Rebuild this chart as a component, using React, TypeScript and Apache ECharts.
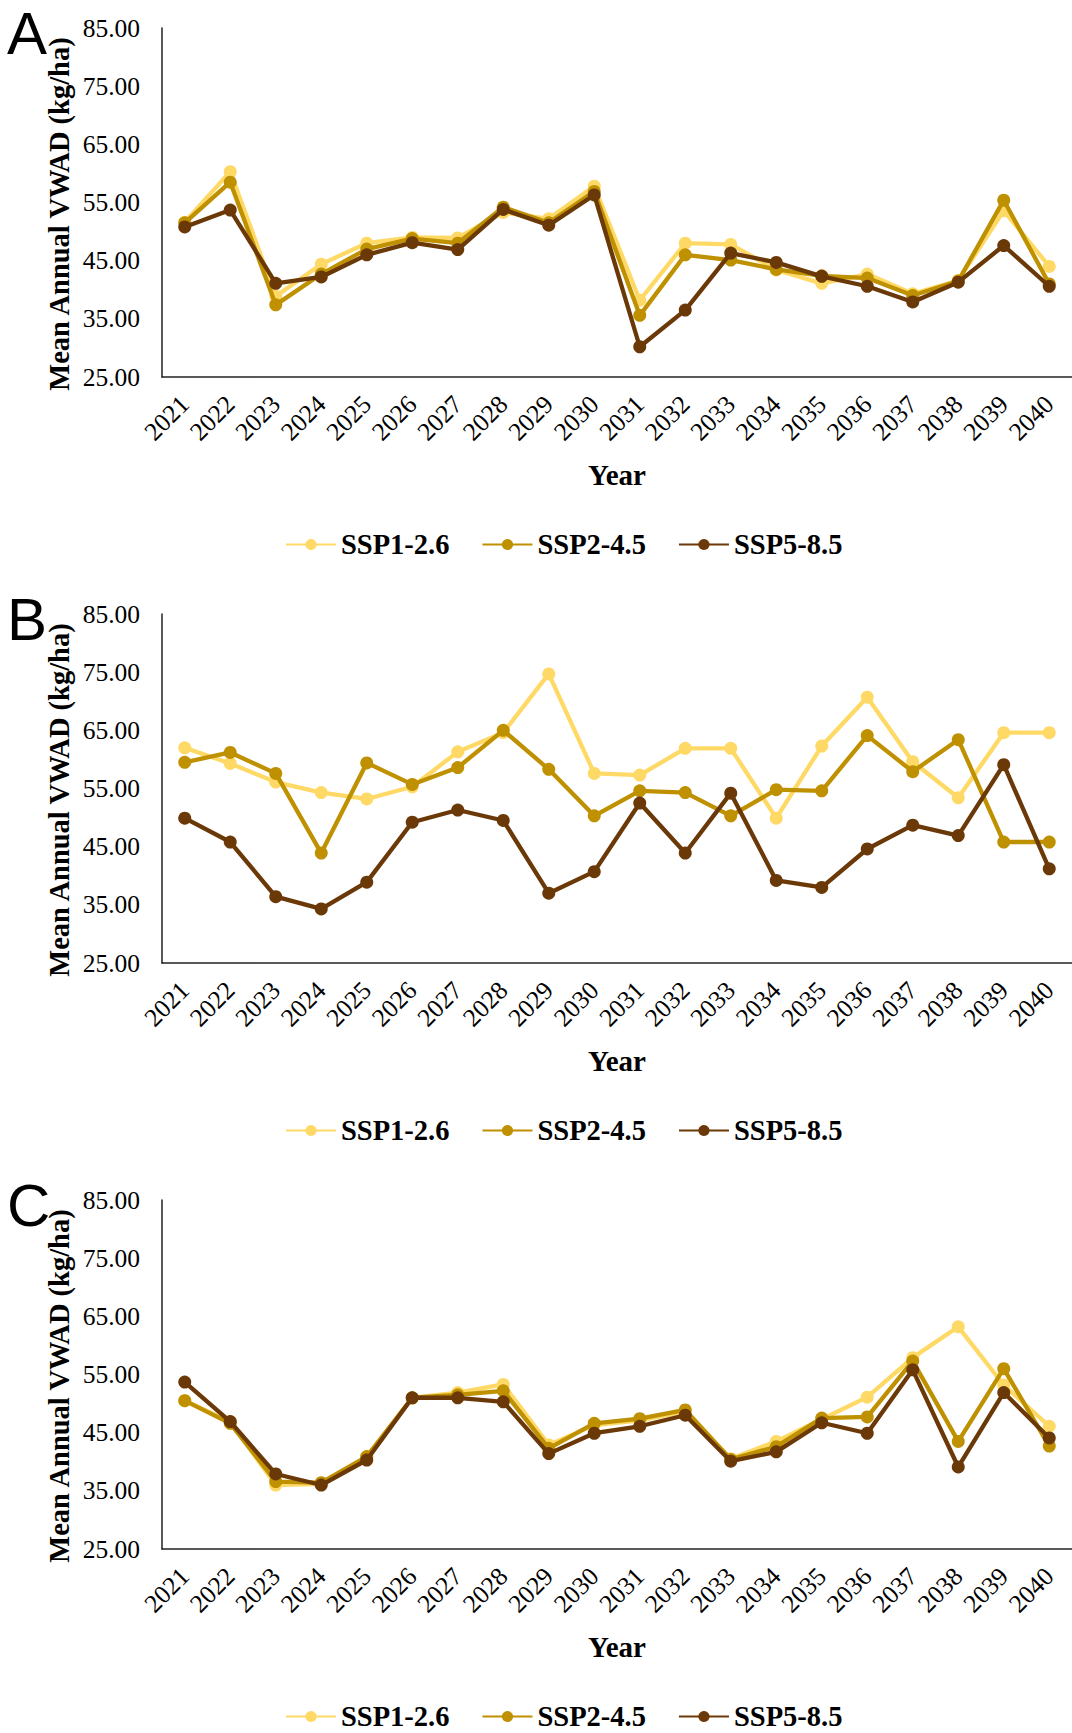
import React, { useEffect, useRef } from "react";
import * as echarts from "echarts";

const years = ["2021","2022","2023","2024","2025","2026","2027","2028","2029","2030","2031","2032","2033","2034","2035","2036","2037","2038","2039","2040"];
const seriesNames = ["SSP1-2.6", "SSP2-4.5", "SSP5-8.5"];
const panelLetters = ["A", "B", "C"];
const yAxisTitle = "Mean Annual VWAD (kg/ha)";

const ssp1A = [51.6, 60.3, 38.9, 44.4, 48.0, 49.0, 48.9, 53.3, 52.2, 57.8, 38.2, 48.0, 47.8, 43.4, 41.1, 42.7, 39.3, 41.6, 53.6, 44.0];
const ssp2A = [51.5, 58.5, 37.4, 42.7, 47.0, 48.8, 48.0, 54.2, 51.5, 56.9, 35.6, 46.0, 45.1, 43.5, 42.4, 42.0, 39.0, 41.5, 55.4, 41.0];
const ssp5A = [50.8, 53.7, 41.1, 42.2, 46.0, 48.1, 46.9, 53.8, 51.1, 56.3, 30.2, 36.5, 46.3, 44.7, 42.3, 40.6, 37.9, 41.3, 47.6, 40.6];

const ssp1B = [62.0, 59.3, 56.1, 54.3, 53.2, 55.3, 61.3, 64.6, 74.7, 57.6, 57.3, 61.9, 61.9, 49.9, 62.3, 70.7, 59.6, 53.4, 64.6, 64.6];
const ssp2B = [59.5, 61.2, 57.6, 43.9, 59.4, 55.7, 58.6, 65.0, 58.3, 50.3, 54.6, 54.3, 50.3, 54.8, 54.6, 64.1, 57.9, 63.4, 45.8, 45.8];
const ssp5B = [49.9, 45.8, 36.4, 34.3, 38.9, 49.2, 51.3, 49.5, 37.0, 40.7, 52.5, 43.9, 54.2, 39.2, 38.0, 44.6, 48.7, 46.9, 59.1, 41.2];

const ssp1C = [50.5, 46.9, 36.0, 36.2, 40.8, 51.0, 51.9, 53.3, 42.9, 46.3, 47.1, 48.6, 40.5, 43.5, 47.3, 51.1, 57.9, 63.2, 53.2, 46.1];
const ssp2C = [50.5, 46.6, 36.6, 36.4, 40.9, 51.0, 51.5, 52.2, 42.3, 46.6, 47.4, 48.9, 40.4, 42.6, 47.5, 47.7, 57.3, 43.5, 56.0, 42.7];
const ssp5C = [53.7, 46.9, 37.9, 36.0, 40.3, 51.0, 51.0, 50.3, 41.4, 44.9, 46.1, 48.0, 40.1, 41.7, 46.7, 44.9, 55.8, 39.1, 51.9, 44.1];

const panels = [
  [ssp1A, ssp2A, ssp5A],
  [ssp1B, ssp2B, ssp5B],
  [ssp1C, ssp2C, ssp5C],
];

const colors = ["#FFD966", "#BF9000", "#6B3808"];
const serif = "'Liberation Serif', 'Times New Roman', serif";

export default function App() {
  const ref = useRef<HTMLDivElement>(null);
  useEffect(() => {
    if (!ref.current) return;
    const chart = echarts.init(ref.current, null, { renderer: "svg" });
    const panelH = 586;
    const gridTop = 28;
    const gridH = 349;
    const grids: any[] = [];
    const xAxes: any[] = [];
    const yAxes: any[] = [];
    const series: any[] = [];
    const legends: any[] = [];
    const graphics: any[] = [];
    panels.forEach((data, p) => {
      const off = p * panelH;
      grids.push({ left: 162, right: -9, top: gridTop + off, height: gridH, containLabel: false });
      xAxes.push({
        type: "category",
        gridIndex: p,
        data: years,
        boundaryGap: true,
        axisLine: { show: true, lineStyle: { color: "#222", width: 1.5 } },
        axisTick: { show: false },
        axisLabel: { rotate: 45, margin: 23, fontFamily: serif, fontSize: 25.5, color: "#000", interval: 0 },
        name: "Year",
        nameLocation: "middle",
        nameGap: 83,
        nameTextStyle: { fontFamily: serif, fontSize: 29, fontWeight: "bold", color: "#000" },
        splitLine: { show: false },
      });
      yAxes.push({
        type: "value",
        gridIndex: p,
        min: 25,
        max: 85,
        interval: 10,
        axisLine: { show: true, lineStyle: { color: "#222", width: 1.5 } },
        axisTick: { show: false },
        splitLine: { show: false },
        axisLabel: {
          margin: 22,
          fontFamily: serif,
          fontSize: 25.5,
          color: "#000",
          formatter: (v: number) => v.toFixed(2),
        },
      });
      data.forEach((vals, s) => {
        series.push({
          type: "line",
          name: seriesNames[s],
          xAxisIndex: p,
          yAxisIndex: p,
          data: vals,
          symbol: "circle",
          symbolSize: 13,
          lineStyle: { color: colors[s], width: 4.3 },
          itemStyle: { color: colors[s] },
          z: 2 + s,
        });
      });
      legends.push({
        data: seriesNames,
        left: 280,
        top: 525 + off,
        itemWidth: 50,
        itemHeight: 14,
        itemGap: 32,
        textStyle: { fontFamily: serif, fontSize: 28.5, fontWeight: "bold", color: "#000" },
        selectedMode: false,
      });
      graphics.push({
        type: "text",
        x: 59,
        y: 214 + off,
        rotation: Math.PI / 2,
        style: {
          text: yAxisTitle,
          font: "bold 28.5px 'Liberation Serif', 'Times New Roman', serif",
          fill: "#000",
          align: "center",
          verticalAlign: "middle",
        },
      });
      graphics.push({
        type: "text",
        left: 7,
        top: 3 + off,
        style: { text: panelLetters[p], font: "60px 'Liberation Sans', Arial, sans-serif", fill: "#000" },
      });
    });
    chart.setOption({
      animation: false,
      backgroundColor: "#fff",
      grid: grids,
      xAxis: xAxes,
      yAxis: yAxes,
      series,
      legend: legends,
      graphic: graphics,
    });
    return () => chart.dispose();
  }, []);
  return (
    <div
      ref={ref}
      style={{ position: "absolute", left: 0, top: 0, width: 1072, height: 1733, background: "#fff" }}
    />
  );
}
